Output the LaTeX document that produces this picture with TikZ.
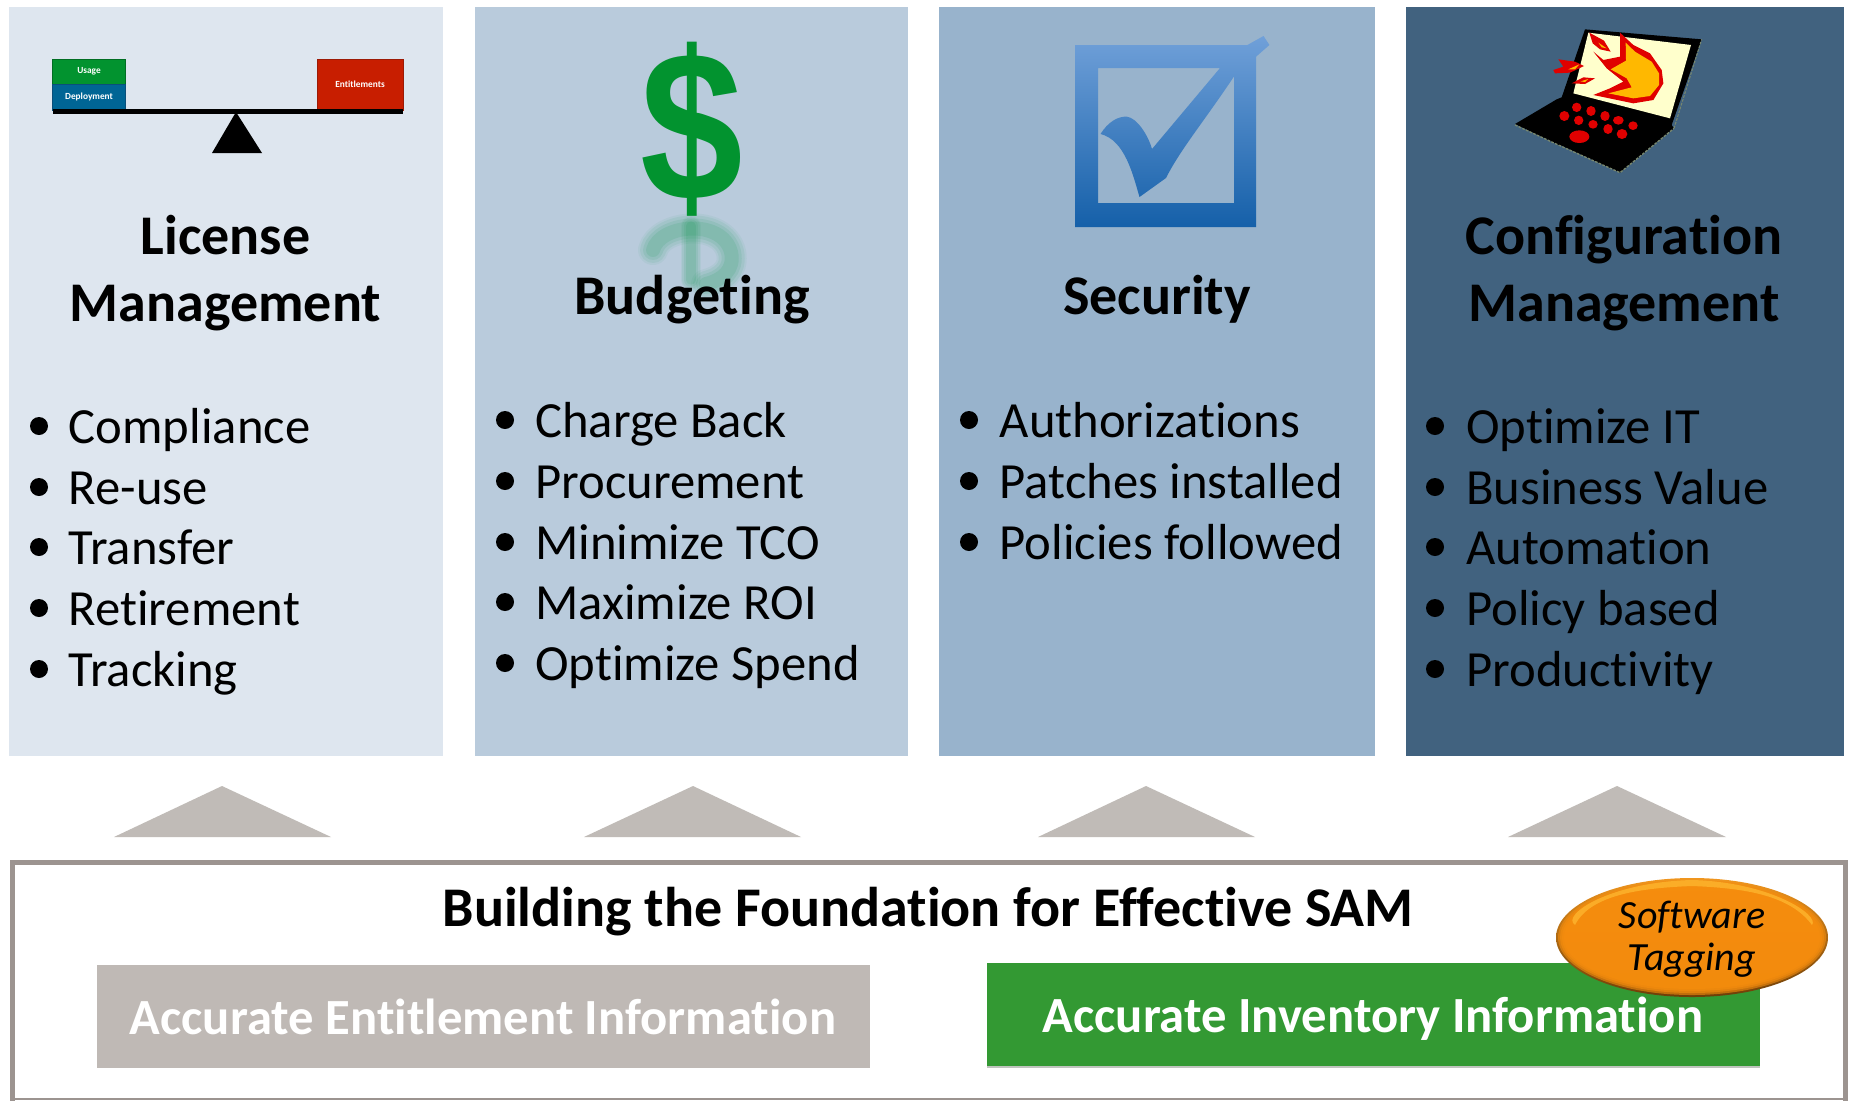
\documentclass[tikz,border=0pt]{standalone}
\usepackage{fontspec}
\setmainfont[RawFeature={-liga}]{Carlito}
\newfontfamily\arialfont{Liberation Sans}
\definecolor{pa}{HTML}{DEE6EF}
\definecolor{pb}{HTML}{B9CBDC}
\definecolor{pc}{HTML}{98B3CC}
\definecolor{pd}{HTML}{41627F}
\definecolor{tri}{HTML}{C0BBB7}
\definecolor{greybox}{HTML}{BFB9B5}
\definecolor{greenbox}{HTML}{339933}
\definecolor{framec}{HTML}{9C9490}
\definecolor{orangec}{HTML}{F68D0D}
\definecolor{dollar}{HTML}{02932F}
\definecolor{blueb}{RGB}{0,101,149}
\definecolor{bluee}{RGB}{10,79,122}
\definecolor{redb}{RGB}{200,30,0}
\definecolor{rede}{RGB}{156,26,5}
\definecolor{lapred}{RGB}{224,0,0}
\definecolor{laporange}{RGB}{255,184,0}
\definecolor{lapcream}{RGB}{255,255,204}
\definecolor{lapedge}{RGB}{120,135,110}
\definecolor{refl}{RGB}{2,147,70}
\definecolor{chktop}{RGB}{112,160,217}
\definecolor{chkbot}{RGB}{21,96,169}
\definecolor{glow}{RGB}{253,181,46}
\definecolor{greenedge}{RGB}{192,196,190}
\definecolor{tagtop}{RGB}{240,150,30}
\definecolor{tagbot}{RGB}{110,62,8}
\tikzset{
  x=0.75pt,y=-0.75pt,
  title/.style={anchor=base,inner sep=0,font=\fontsize{42}{42}\selectfont\bfseries,text=black},
  item/.style={anchor=base west,inner sep=0,font=\fontsize{38}{38}\selectfont,text=black},
  bigwhite/.style={anchor=base,inner sep=0,font=\fontsize{38}{38}\selectfont\bfseries,text=white},
  tag/.style={anchor=base,inner sep=0,font=\fontsize{30}{30}\selectfont\itshape,text=black},
  arrowup/.style={fill=tri,draw=none},
  tiny/.style={inner sep=0,text=white,font=\fontsize{7}{7}\selectfont\bfseries},
}
\begin{document}
\begin{tikzpicture}
\useasboundingbox (0,0) rectangle (1851,1100);
\fill[white] (0,0) rectangle (1851,1100);
% panels
\fill[pa] (9,7) rectangle (443,756);
\fill[pb] (475,7) rectangle (908,756);
\fill[pc] (939,7) rectangle (1375,756);
\fill[pd] (1406,7) rectangle (1844,756);

% balance icon
\filldraw[fill=dollar,draw=dollar!75!black,line width=0.75pt] (52.5,59) rectangle (125.5,84);
\filldraw[fill=blueb,draw=bluee,line width=0.75pt] (52.5,84) rectangle (125.5,110);
\filldraw[fill=redb,draw=rede,line width=0.75pt] (317,59) rectangle (403,110);
\fill[black] (53,109) rectangle (403,114);
\fill[black] (236,112) -- (262,153) -- (212,153) -- cycle;
\node[tiny] (usage) at (89,71) {Usage};
\node[tiny] (deployment) at (89,97) {Deployment};
\node[tiny] (entitlements) at (360,84) {Entitlements};

% dollar reflection
\begin{scope}[line cap=round,draw=refl]
  \foreach \w/\o in {30/.05,26/.07,20/.09,14/.11}{
    \draw[opacity=\o,line width=\w*0.75pt] (653,250) .. controls (660,224) and (722,218) .. (731,252) .. controls (735,270) and (722,280) .. (706,284);
    \draw[opacity=\o,line width=\w*0.5pt] (691,226) -- (691,280);
  }
\end{scope}
% dollar
\node[inner sep=0,text=dollar,xscale=0.865,font=\fontsize{160}{160}\selectfont\arialfont\bfseries] (dollarsign) at (691.5,129.5) {\$};

% check box
\shade[top color=chktop,bottom color=chkbot]
  (1075,45) -- (1256,45) -- (1256,227) -- (1075,227) -- cycle
  (1098,68) -- (1098,203) -- (1234,203) -- (1234,68) -- cycle
  (1100.5,134) .. controls (1108,122) and (1118,116) .. (1127,116.7) .. controls (1137,118) and (1148,135) .. (1152,149)
  -- (1220,68) -- (1247.4,45) -- (1263.5,36) -- (1269.4,45) -- (1256,56.7) -- (1233.6,77)
  .. controls (1205,120) and (1180,150) .. (1166,178) -- (1139.5,197) .. controls (1133,175) and (1125,140) .. (1100.5,134) -- cycle;

% laptop
\begin{scope}[shift={(1460,10)},x=0.25pt,y=-0.25pt]
  \fill[black] (165,342) -- (290,268) -- (305,262) -- (375,58) -- (725,88) -- (635,345) -- (642,355) -- (480,488) -- (300,405) -- (295,405) -- cycle;
  \draw[line width=1pt,dash pattern=on 2pt off 1pt,lapedge] (165,345) -- (295,405) -- (480,488) -- (642,355);
  \draw[line width=.8pt,dash pattern=on 2pt off 1pt,lapedge] (642,355) -- (725,88);
  \fill[lapcream] (385,68) -- (693,105) -- (630,325) -- (340,250) -- cycle;
  \fill[lapred] (400,125) -- (430,150) -- (480,140) -- (480,68) -- (520,105) -- (570,130) -- (605,180) -- (610,220) -- (580,270) -- (520,280) -- (400,255) -- (450,235) -- (490,215) -- (440,175) -- cycle;
  \fill[laporange] (452,178) -- (498,152) -- (497,98) -- (525,125) -- (575,155) -- (597,190) -- (597,225) -- (570,258) -- (520,265) -- (445,250) -- (515,232) -- (500,205) -- cycle;
  \fill[lapred] (388,68) -- (432,92) -- (452,125) -- (420,118) -- (398,100) -- cycle;
  \fill[laporange] (415,98) -- (440,115) -- (425,112) -- cycle;
  \fill[lapred] (295,148) -- (345,155) -- (372,168) -- (330,188) -- (285,190) -- (280,180) -- (310,170) -- cycle;
  \fill[laporange] (325,178) -- (358,163) -- (345,178) -- cycle;
  \fill[lapred] (335,220) -- (370,202) -- (405,205) -- (375,222) -- cycle;
  \fill[laporange] (362,214) -- (385,207) -- (375,216) -- cycle;
  \foreach \a/\b/\c/\d in {313/318/15/15,350/292/14/14,393/303/14/15,435/318/14/15,475/331/16/13,519/347/14/13,356/331/14/14,399/343/14/13,444/357/14/15,486/372/16/15,358/380/30/19}{
    \fill[lapred] (\a,\b) ellipse [x radius=\c,y radius=\d];
  }
\end{scope}

% titles
\node[title] (t1a) at (225.5,254) {License};
\node[title] (t1b) at (225.5,321) {Management};
\node[title] (t2) at (692,314) {Budgeting};
\node[title] (t3) at (1157,314) {Security};
\node[title] (t4a) at (1624,254) {Configuration};
\node[title] (t4b) at (1624,321) {Management};

% lists
\foreach \y/\t [count=\i] in {443/Compliance,504/Re-use,564/Transfer,625/Retirement,686/Tracking}{
  \fill[black] (39,\y-17) circle (9);
  \node[item] (a\i) at (68.5,\y) {\t};
}
\foreach \y/\t [count=\i] in {437/Charge Back,498/Procurement,559/Minimize TCO,619/Maximize ROI,680/Optimize Spend}{
  \fill[black] (505,\y-17) circle (9);
  \node[item] (b\i) at (535,\y) {\t};
}
\foreach \y/\t [count=\i] in {437/Authorizations,498/Patches installed,559/Policies followed}{
  \fill[black] (969,\y-17) circle (9);
  \node[item] (c\i) at (999.5,\y) {\t};
}
\foreach \y/\t [count=\i] in {443/Optimize IT,504/Business Value,564/Automation,625/Policy based,686/Productivity}{
  \fill[black] (1435,\y-17) circle (9);
  \node[item] (d\i) at (1466,\y) {\t};
}

% triangles
\fill[arrowup] (222,786) -- (331,837) -- (114,837) -- cycle;
\fill[arrowup] (693,786) -- (801,837) -- (584,837) -- cycle;
\fill[arrowup] (1146,786) -- (1255,837) -- (1038,837) -- cycle;
\fill[arrowup] (1617,786) -- (1726,837) -- (1508,837) -- cycle;

% foundation
\draw[framec,line width=3.75pt] (12,862) -- (1845.5,862) -- (1845.5,1103) (12,860) -- (12,1103);
\draw[framec,line width=1.5pt] (12,1099) -- (1845.5,1099);
\node[title] (found) at (928,926) {Building the Foundation for Effective SAM};
\fill[greybox] (97,964.5) rectangle (870,1068);
\node[bigwhite] (ent) at (483,1034) {Accurate Entitlement Information};
\fill[greenedge] (987,1064) rectangle (1760,1068);
\fill[greenbox] (987,963) rectangle (1760,1066);
\node[bigwhite] (inv) at (1373,1032) {Accurate Inventory Information};

% tag ellipse
\shade[top color=tagtop,bottom color=tagbot] (1692,937.5) ellipse [x radius=136,y radius=59.5];
\foreach \k in {2,4,6,8}{
  \fill[orangec,opacity=0.6] (1692,937.5) ellipse [x radius=136-\k,y radius=59.5-\k];
}
\fill[glow,opacity=.8] (1692,880) .. controls (1610,882) and (1560,915) .. (1575,925) .. controls (1590,895) and (1640,888) .. (1692,886) .. controls (1744,888) and (1790,895) .. (1812,925) .. controls (1820,915) and (1770,882) .. (1692,880) -- cycle;
\node[tag] (sw) at (1692,928) {Software};
\node[tag] (tg) at (1692,970) {Tagging};
\end{tikzpicture}
\end{document}
